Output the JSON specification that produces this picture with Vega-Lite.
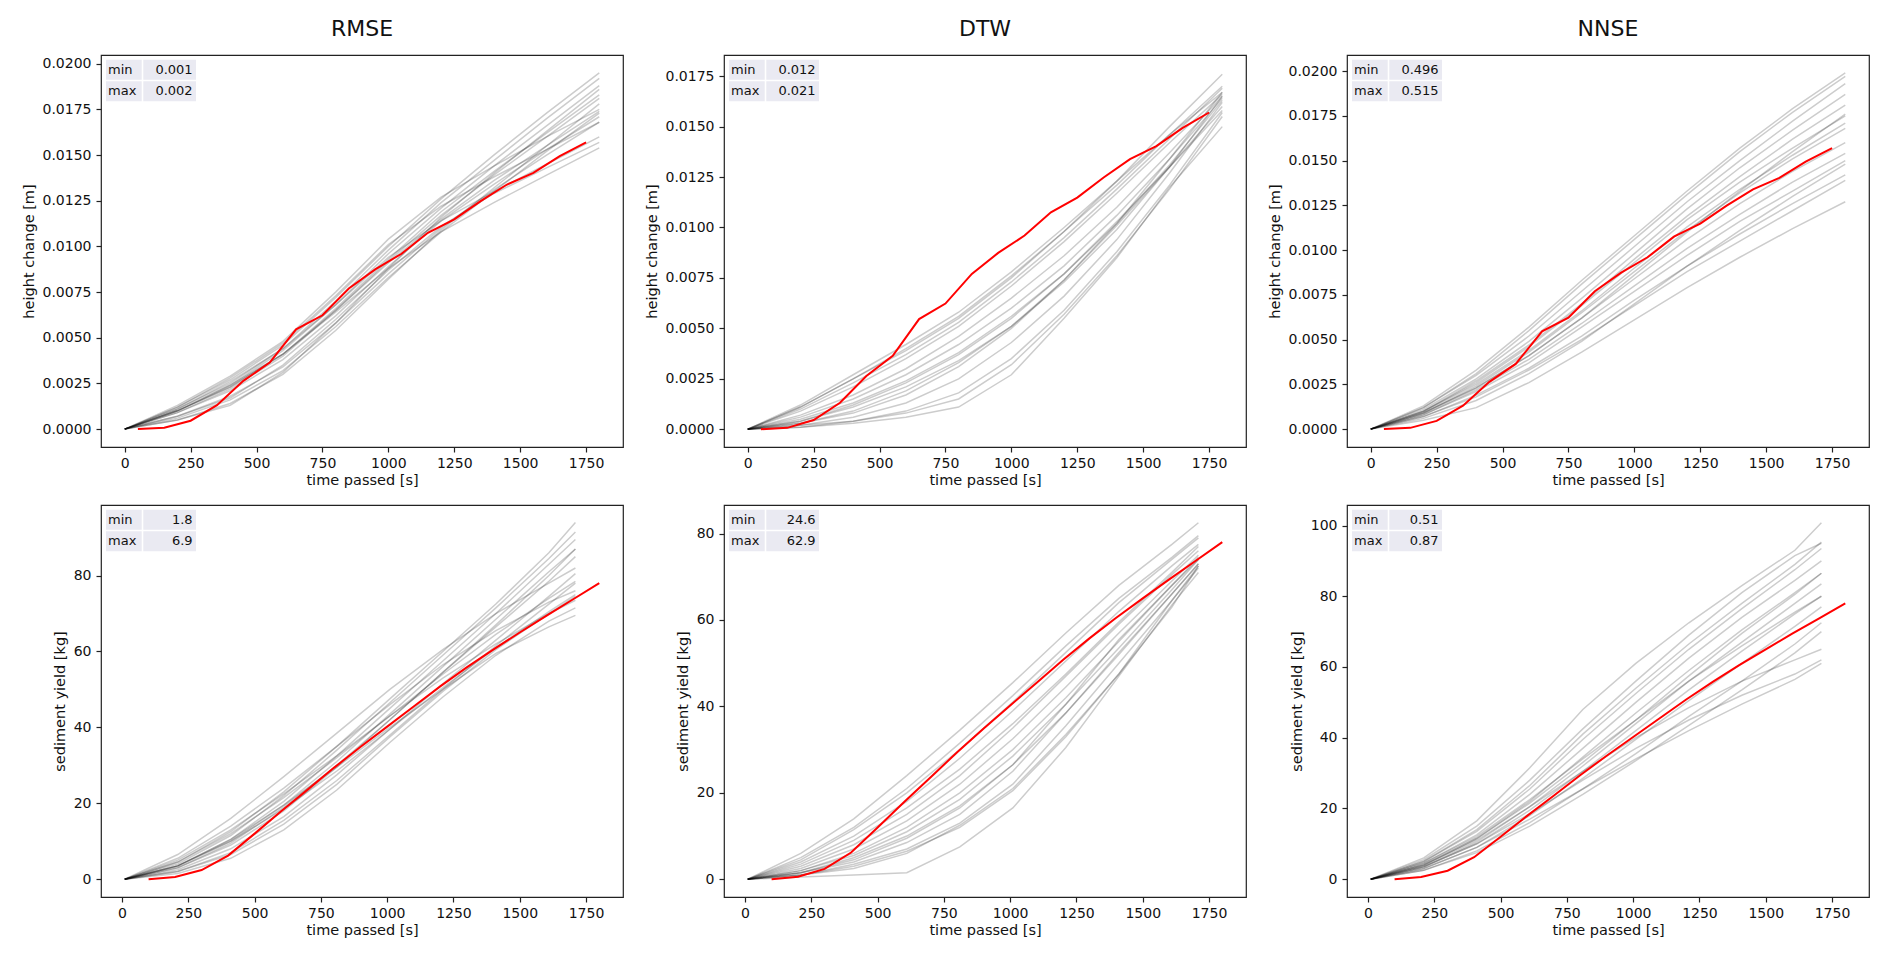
{
"$schema":"https://vega.github.io/schema/vega-lite/v6.json",
"background":"white",
"padding":{"left":20,"top":17,"right":5,"bottom":5},
"datasets":{
"a":[
{"s":1,"x":0,"y":0},{"s":1,"x":200,"y":0.0012},{"s":1,"x":400,"y":0.0027},{"s":1,"x":600,"y":0.0046},{"s":1,"x":800,"y":0.0072},{"s":1,"x":1000,"y":0.0100},{"s":1,"x":1200,"y":0.0126},{"s":1,"x":1400,"y":0.0150},{"s":1,"x":1600,"y":0.0173},{"s":1,"x":1800,"y":0.0195},
{"s":2,"x":0,"y":0},{"s":2,"x":200,"y":0.0011},{"s":2,"x":400,"y":0.0025},{"s":2,"x":600,"y":0.0044},{"s":2,"x":800,"y":0.0070},{"s":2,"x":1000,"y":0.0098},{"s":2,"x":1200,"y":0.0124},{"s":2,"x":1400,"y":0.0147},{"s":2,"x":1600,"y":0.0170},{"s":2,"x":1800,"y":0.0192},
{"s":3,"x":0,"y":0},{"s":3,"x":200,"y":0.0010},{"s":3,"x":400,"y":0.0024},{"s":3,"x":600,"y":0.0043},{"s":3,"x":800,"y":0.0068},{"s":3,"x":1000,"y":0.0096},{"s":3,"x":1200,"y":0.0121},{"s":3,"x":1400,"y":0.0144},{"s":3,"x":1600,"y":0.0166},{"s":3,"x":1800,"y":0.0188},
{"s":4,"x":0,"y":0},{"s":4,"x":200,"y":0.0010},{"s":4,"x":400,"y":0.0023},{"s":4,"x":600,"y":0.0041},{"s":4,"x":800,"y":0.0066},{"s":4,"x":1000,"y":0.0093},{"s":4,"x":1200,"y":0.0119},{"s":4,"x":1400,"y":0.0141},{"s":4,"x":1600,"y":0.0162},{"s":4,"x":1800,"y":0.0183},
{"s":5,"x":0,"y":0},{"s":5,"x":200,"y":0.0009},{"s":5,"x":400,"y":0.0022},{"s":5,"x":600,"y":0.0040},{"s":5,"x":800,"y":0.0065},{"s":5,"x":1000,"y":0.0092},{"s":5,"x":1200,"y":0.0117},{"s":5,"x":1400,"y":0.0139},{"s":5,"x":1600,"y":0.0160},{"s":5,"x":1800,"y":0.0181},
{"s":6,"x":0,"y":0},{"s":6,"x":200,"y":0.0010},{"s":6,"x":400,"y":0.0023},{"s":6,"x":600,"y":0.0041},{"s":6,"x":800,"y":0.0065},{"s":6,"x":1000,"y":0.0091},{"s":6,"x":1200,"y":0.0115},{"s":6,"x":1400,"y":0.0136},{"s":6,"x":1600,"y":0.0155},{"s":6,"x":1800,"y":0.0174},
{"s":7,"x":0,"y":0},{"s":7,"x":200,"y":0.0009},{"s":7,"x":400,"y":0.0021},{"s":7,"x":600,"y":0.0038},{"s":7,"x":800,"y":0.0062},{"s":7,"x":1000,"y":0.0089},{"s":7,"x":1200,"y":0.0114},{"s":7,"x":1400,"y":0.0134},{"s":7,"x":1600,"y":0.0153},{"s":7,"x":1800,"y":0.0171},
{"s":8,"x":0,"y":0},{"s":8,"x":200,"y":0.0013},{"s":8,"x":400,"y":0.0029},{"s":8,"x":600,"y":0.0048},{"s":8,"x":800,"y":0.0075},{"s":8,"x":1000,"y":0.0104},{"s":8,"x":1200,"y":0.0127},{"s":8,"x":1400,"y":0.0144},{"s":8,"x":1600,"y":0.0160},{"s":8,"x":1800,"y":0.0175},
{"s":9,"x":0,"y":0},{"s":9,"x":200,"y":0.0012},{"s":9,"x":400,"y":0.0028},{"s":9,"x":600,"y":0.0047},{"s":9,"x":800,"y":0.0073},{"s":9,"x":1000,"y":0.0101},{"s":9,"x":1200,"y":0.0122},{"s":9,"x":1400,"y":0.0138},{"s":9,"x":1600,"y":0.0153},{"s":9,"x":1800,"y":0.0168},
{"s":10,"x":0,"y":0},{"s":10,"x":200,"y":0.0011},{"s":10,"x":400,"y":0.0026},{"s":10,"x":600,"y":0.0044},{"s":10,"x":800,"y":0.0068},{"s":10,"x":1000,"y":0.0094},{"s":10,"x":1200,"y":0.0114},{"s":10,"x":1400,"y":0.0130},{"s":10,"x":1600,"y":0.0145},{"s":10,"x":1800,"y":0.0160},
{"s":11,"x":0,"y":0},{"s":11,"x":200,"y":0.0010},{"s":11,"x":400,"y":0.0024},{"s":11,"x":600,"y":0.0041},{"s":11,"x":800,"y":0.0064},{"s":11,"x":1000,"y":0.0088},{"s":11,"x":1200,"y":0.0108},{"s":11,"x":1400,"y":0.0124},{"s":11,"x":1600,"y":0.0139},{"s":11,"x":1800,"y":0.0154},
{"s":12,"x":0,"y":0},{"s":12,"x":200,"y":0.0007},{"s":12,"x":400,"y":0.0018},{"s":12,"x":600,"y":0.0034},{"s":12,"x":800,"y":0.0058},{"s":12,"x":1000,"y":0.0085},{"s":12,"x":1200,"y":0.0110},{"s":12,"x":1400,"y":0.0131},{"s":12,"x":1600,"y":0.0150},{"s":12,"x":1800,"y":0.0168},
{"s":13,"x":0,"y":0},{"s":13,"x":200,"y":0.0006},{"s":13,"x":400,"y":0.0016},{"s":13,"x":600,"y":0.0032},{"s":13,"x":800,"y":0.0056},{"s":13,"x":1000,"y":0.0083},{"s":13,"x":1200,"y":0.0108},{"s":13,"x":1400,"y":0.0130},{"s":13,"x":1600,"y":0.0152},{"s":13,"x":1800,"y":0.0173},
{"s":14,"x":0,"y":0},{"s":14,"x":200,"y":0.0005},{"s":14,"x":400,"y":0.0014},{"s":14,"x":600,"y":0.0030},{"s":14,"x":800,"y":0.0054},{"s":14,"x":1000,"y":0.0082},{"s":14,"x":1200,"y":0.0109},{"s":14,"x":1400,"y":0.0132},{"s":14,"x":1600,"y":0.0155},{"s":14,"x":1800,"y":0.0178},
{"s":15,"x":0,"y":0},{"s":15,"x":200,"y":0.0005},{"s":15,"x":400,"y":0.0013},{"s":15,"x":600,"y":0.0031},{"s":15,"x":800,"y":0.0058},{"s":15,"x":1000,"y":0.0088},{"s":15,"x":1200,"y":0.0116},{"s":15,"x":1400,"y":0.0140},{"s":15,"x":1600,"y":0.0163},{"s":15,"x":1800,"y":0.0186},
{"s":16,"x":0,"y":0},{"s":16,"x":200,"y":0.0007},{"s":16,"x":400,"y":0.0017},{"s":16,"x":600,"y":0.0035},{"s":16,"x":800,"y":0.0060},{"s":16,"x":1000,"y":0.0087},{"s":16,"x":1200,"y":0.0111},{"s":16,"x":1400,"y":0.0129},{"s":16,"x":1600,"y":0.0143},{"s":16,"x":1800,"y":0.0157}
],
"b":[
{"s":1,"x":0,"y":0},{"s":1,"x":200,"y":0.0011},{"s":1,"x":400,"y":0.0025},{"s":1,"x":600,"y":0.0040},{"s":1,"x":800,"y":0.0056},{"s":1,"x":1000,"y":0.0076},{"s":1,"x":1200,"y":0.0098},{"s":1,"x":1400,"y":0.0121},{"s":1,"x":1600,"y":0.0146},{"s":1,"x":1800,"y":0.0170},
{"s":2,"x":0,"y":0},{"s":2,"x":200,"y":0.0010},{"s":2,"x":400,"y":0.0023},{"s":2,"x":600,"y":0.0037},{"s":2,"x":800,"y":0.0053},{"s":2,"x":1000,"y":0.0073},{"s":2,"x":1200,"y":0.0095},{"s":2,"x":1400,"y":0.0119},{"s":2,"x":1600,"y":0.0144},{"s":2,"x":1800,"y":0.0169},
{"s":3,"x":0,"y":0},{"s":3,"x":200,"y":0.0012},{"s":3,"x":400,"y":0.0027},{"s":3,"x":600,"y":0.0042},{"s":3,"x":800,"y":0.0058},{"s":3,"x":1000,"y":0.0078},{"s":3,"x":1200,"y":0.0100},{"s":3,"x":1400,"y":0.0123},{"s":3,"x":1600,"y":0.0146},{"s":3,"x":1800,"y":0.0167},
{"s":4,"x":0,"y":0},{"s":4,"x":200,"y":0.0009},{"s":4,"x":400,"y":0.0021},{"s":4,"x":600,"y":0.0035},{"s":4,"x":800,"y":0.0051},{"s":4,"x":1000,"y":0.0071},{"s":4,"x":1200,"y":0.0093},{"s":4,"x":1400,"y":0.0117},{"s":4,"x":1600,"y":0.0142},{"s":4,"x":1800,"y":0.0166},
{"s":5,"x":0,"y":0},{"s":5,"x":200,"y":0.0011},{"s":5,"x":400,"y":0.0025},{"s":5,"x":600,"y":0.0039},{"s":5,"x":800,"y":0.0055},{"s":5,"x":1000,"y":0.0075},{"s":5,"x":1200,"y":0.0098},{"s":5,"x":1400,"y":0.0123},{"s":5,"x":1600,"y":0.0150},{"s":5,"x":1800,"y":0.0176},
{"s":6,"x":0,"y":0},{"s":6,"x":200,"y":0.0007},{"s":6,"x":400,"y":0.0017},{"s":6,"x":600,"y":0.0030},{"s":6,"x":800,"y":0.0046},{"s":6,"x":1000,"y":0.0065},{"s":6,"x":1200,"y":0.0086},{"s":6,"x":1400,"y":0.0110},{"s":6,"x":1600,"y":0.0137},{"s":6,"x":1800,"y":0.0165},
{"s":7,"x":0,"y":0},{"s":7,"x":200,"y":0.0006},{"s":7,"x":400,"y":0.0015},{"s":7,"x":600,"y":0.0027},{"s":7,"x":800,"y":0.0042},{"s":7,"x":1000,"y":0.0060},{"s":7,"x":1200,"y":0.0081},{"s":7,"x":1400,"y":0.0106},{"s":7,"x":1600,"y":0.0134},{"s":7,"x":1800,"y":0.0164},
{"s":8,"x":0,"y":0},{"s":8,"x":200,"y":0.0005},{"s":8,"x":400,"y":0.0013},{"s":8,"x":600,"y":0.0024},{"s":8,"x":800,"y":0.0038},{"s":8,"x":1000,"y":0.0056},{"s":8,"x":1200,"y":0.0077},{"s":8,"x":1400,"y":0.0102},{"s":8,"x":1600,"y":0.0131},{"s":8,"x":1800,"y":0.0163},
{"s":9,"x":0,"y":0},{"s":9,"x":200,"y":0.0004},{"s":9,"x":400,"y":0.0011},{"s":9,"x":600,"y":0.0021},{"s":9,"x":800,"y":0.0034},{"s":9,"x":1000,"y":0.0051},{"s":9,"x":1200,"y":0.0073},{"s":9,"x":1400,"y":0.0099},{"s":9,"x":1600,"y":0.0130},{"s":9,"x":1800,"y":0.0165},
{"s":10,"x":0,"y":0},{"s":10,"x":200,"y":0.0003},{"s":10,"x":400,"y":0.0009},{"s":10,"x":600,"y":0.0019},{"s":10,"x":800,"y":0.0033},{"s":10,"x":1000,"y":0.0051},{"s":10,"x":1200,"y":0.0074},{"s":10,"x":1400,"y":0.0101},{"s":10,"x":1600,"y":0.0130},{"s":10,"x":1800,"y":0.0160},
{"s":11,"x":0,"y":0},{"s":11,"x":200,"y":0.0004},{"s":11,"x":400,"y":0.0012},{"s":11,"x":600,"y":0.0023},{"s":11,"x":800,"y":0.0037},{"s":11,"x":1000,"y":0.0055},{"s":11,"x":1200,"y":0.0077},{"s":11,"x":1400,"y":0.0103},{"s":11,"x":1600,"y":0.0130},{"s":11,"x":1800,"y":0.0158},
{"s":12,"x":0,"y":0},{"s":12,"x":200,"y":0.0003},{"s":12,"x":400,"y":0.0008},{"s":12,"x":600,"y":0.0017},{"s":12,"x":800,"y":0.0031},{"s":12,"x":1000,"y":0.0050},{"s":12,"x":1200,"y":0.0074},{"s":12,"x":1400,"y":0.0102},{"s":12,"x":1600,"y":0.0134},{"s":12,"x":1800,"y":0.0167},
{"s":13,"x":0,"y":0},{"s":13,"x":200,"y":0.0002},{"s":13,"x":400,"y":0.0006},{"s":13,"x":600,"y":0.0013},{"s":13,"x":800,"y":0.0025},{"s":13,"x":1000,"y":0.0043},{"s":13,"x":1200,"y":0.0066},{"s":13,"x":1400,"y":0.0094},{"s":13,"x":1600,"y":0.0127},{"s":13,"x":1800,"y":0.0162},
{"s":14,"x":0,"y":0},{"s":14,"x":200,"y":0.0002},{"s":14,"x":400,"y":0.0004},{"s":14,"x":600,"y":0.0009},{"s":14,"x":800,"y":0.0018},{"s":14,"x":1000,"y":0.0035},{"s":14,"x":1200,"y":0.0059},{"s":14,"x":1400,"y":0.0088},{"s":14,"x":1600,"y":0.0121},{"s":14,"x":1800,"y":0.0157},
{"s":15,"x":0,"y":0},{"s":15,"x":200,"y":0.0001},{"s":15,"x":400,"y":0.0004},{"s":15,"x":600,"y":0.0008},{"s":15,"x":800,"y":0.0015},{"s":15,"x":1000,"y":0.0032},{"s":15,"x":1200,"y":0.0057},{"s":15,"x":1400,"y":0.0086},{"s":15,"x":1600,"y":0.0119},{"s":15,"x":1800,"y":0.0155},
{"s":16,"x":0,"y":0},{"s":16,"x":200,"y":0.0001},{"s":16,"x":400,"y":0.0003},{"s":16,"x":600,"y":0.0006},{"s":16,"x":800,"y":0.0011},{"s":16,"x":1000,"y":0.0027},{"s":16,"x":1200,"y":0.0055},{"s":16,"x":1400,"y":0.0085},{"s":16,"x":1600,"y":0.0120},{"s":16,"x":1800,"y":0.0150}
],
"c":[
{"s":1,"x":0,"y":0},{"s":1,"x":200,"y":0.0013},{"s":1,"x":400,"y":0.0033},{"s":1,"x":600,"y":0.0057},{"s":1,"x":800,"y":0.0083},{"s":1,"x":1000,"y":0.0108},{"s":1,"x":1200,"y":0.0133},{"s":1,"x":1400,"y":0.0157},{"s":1,"x":1600,"y":0.0179},{"s":1,"x":1800,"y":0.0199},
{"s":2,"x":0,"y":0},{"s":2,"x":200,"y":0.0012},{"s":2,"x":400,"y":0.0031},{"s":2,"x":600,"y":0.0055},{"s":2,"x":800,"y":0.0081},{"s":2,"x":1000,"y":0.0106},{"s":2,"x":1200,"y":0.0131},{"s":2,"x":1400,"y":0.0155},{"s":2,"x":1600,"y":0.0177},{"s":2,"x":1800,"y":0.0197},
{"s":3,"x":0,"y":0},{"s":3,"x":200,"y":0.0012},{"s":3,"x":400,"y":0.0030},{"s":3,"x":600,"y":0.0052},{"s":3,"x":800,"y":0.0077},{"s":3,"x":1000,"y":0.0102},{"s":3,"x":1200,"y":0.0127},{"s":3,"x":1400,"y":0.0150},{"s":3,"x":1600,"y":0.0172},{"s":3,"x":1800,"y":0.0193},
{"s":4,"x":0,"y":0},{"s":4,"x":200,"y":0.0011},{"s":4,"x":400,"y":0.0028},{"s":4,"x":600,"y":0.0049},{"s":4,"x":800,"y":0.0073},{"s":4,"x":1000,"y":0.0098},{"s":4,"x":1200,"y":0.0123},{"s":4,"x":1400,"y":0.0146},{"s":4,"x":1600,"y":0.0167},{"s":4,"x":1800,"y":0.0187},
{"s":5,"x":0,"y":0},{"s":5,"x":200,"y":0.0010},{"s":5,"x":400,"y":0.0027},{"s":5,"x":600,"y":0.0047},{"s":5,"x":800,"y":0.0070},{"s":5,"x":1000,"y":0.0095},{"s":5,"x":1200,"y":0.0119},{"s":5,"x":1400,"y":0.0141},{"s":5,"x":1600,"y":0.0162},{"s":5,"x":1800,"y":0.0181},
{"s":6,"x":0,"y":0},{"s":6,"x":200,"y":0.0010},{"s":6,"x":400,"y":0.0026},{"s":6,"x":600,"y":0.0046},{"s":6,"x":800,"y":0.0069},{"s":6,"x":1000,"y":0.0093},{"s":6,"x":1200,"y":0.0117},{"s":6,"x":1400,"y":0.0138},{"s":6,"x":1600,"y":0.0157},{"s":6,"x":1800,"y":0.0175},
{"s":7,"x":0,"y":0},{"s":7,"x":200,"y":0.0010},{"s":7,"x":400,"y":0.0025},{"s":7,"x":600,"y":0.0044},{"s":7,"x":800,"y":0.0066},{"s":7,"x":1000,"y":0.0090},{"s":7,"x":1200,"y":0.0113},{"s":7,"x":1400,"y":0.0134},{"s":7,"x":1600,"y":0.0153},{"s":7,"x":1800,"y":0.0171},
{"s":8,"x":0,"y":0},{"s":8,"x":200,"y":0.0009},{"s":8,"x":400,"y":0.0023},{"s":8,"x":600,"y":0.0041},{"s":8,"x":800,"y":0.0062},{"s":8,"x":1000,"y":0.0084},{"s":8,"x":1200,"y":0.0106},{"s":8,"x":1400,"y":0.0126},{"s":8,"x":1600,"y":0.0144},{"s":8,"x":1800,"y":0.0160},
{"s":9,"x":0,"y":0},{"s":9,"x":200,"y":0.0008},{"s":9,"x":400,"y":0.0022},{"s":9,"x":600,"y":0.0039},{"s":9,"x":800,"y":0.0059},{"s":9,"x":1000,"y":0.0080},{"s":9,"x":1200,"y":0.0101},{"s":9,"x":1400,"y":0.0120},{"s":9,"x":1600,"y":0.0138},{"s":9,"x":1800,"y":0.0154},
{"s":10,"x":0,"y":0},{"s":10,"x":200,"y":0.0008},{"s":10,"x":400,"y":0.0021},{"s":10,"x":600,"y":0.0037},{"s":10,"x":800,"y":0.0057},{"s":10,"x":1000,"y":0.0077},{"s":10,"x":1200,"y":0.0097},{"s":10,"x":1400,"y":0.0116},{"s":10,"x":1600,"y":0.0133},{"s":10,"x":1800,"y":0.0150},
{"s":11,"x":0,"y":0},{"s":11,"x":200,"y":0.0007},{"s":11,"x":400,"y":0.0019},{"s":11,"x":600,"y":0.0034},{"s":11,"x":800,"y":0.0052},{"s":11,"x":1000,"y":0.0072},{"s":11,"x":1200,"y":0.0091},{"s":11,"x":1400,"y":0.0109},{"s":11,"x":1600,"y":0.0126},{"s":11,"x":1800,"y":0.0142},
{"s":12,"x":0,"y":0},{"s":12,"x":200,"y":0.0007},{"s":12,"x":400,"y":0.0018},{"s":12,"x":600,"y":0.0033},{"s":12,"x":800,"y":0.0050},{"s":12,"x":1000,"y":0.0069},{"s":12,"x":1200,"y":0.0088},{"s":12,"x":1400,"y":0.0105},{"s":12,"x":1600,"y":0.0122},{"s":12,"x":1800,"y":0.0139},
{"s":13,"x":0,"y":0},{"s":13,"x":200,"y":0.0005},{"s":13,"x":400,"y":0.0012},{"s":13,"x":600,"y":0.0026},{"s":13,"x":800,"y":0.0043},{"s":13,"x":1000,"y":0.0061},{"s":13,"x":1200,"y":0.0079},{"s":13,"x":1400,"y":0.0096},{"s":13,"x":1600,"y":0.0112},{"s":13,"x":1800,"y":0.0127},
{"s":14,"x":0,"y":0},{"s":14,"x":200,"y":0.0009},{"s":14,"x":400,"y":0.0024},{"s":14,"x":600,"y":0.0043},{"s":14,"x":800,"y":0.0065},{"s":14,"x":1000,"y":0.0088},{"s":14,"x":1200,"y":0.0111},{"s":14,"x":1400,"y":0.0132},{"s":14,"x":1600,"y":0.0151},{"s":14,"x":1800,"y":0.0168},
{"s":15,"x":0,"y":0},{"s":15,"x":200,"y":0.0006},{"s":15,"x":400,"y":0.0016},{"s":15,"x":600,"y":0.0031},{"s":15,"x":800,"y":0.0049},{"s":15,"x":1000,"y":0.0070},{"s":15,"x":1200,"y":0.0091},{"s":15,"x":1400,"y":0.0111},{"s":15,"x":1600,"y":0.0130},{"s":15,"x":1800,"y":0.0148},
{"s":16,"x":0,"y":0},{"s":16,"x":200,"y":0.0009},{"s":16,"x":400,"y":0.0023},{"s":16,"x":600,"y":0.0041},{"s":16,"x":800,"y":0.0062},{"s":16,"x":1000,"y":0.0086},{"s":16,"x":1200,"y":0.0110},{"s":16,"x":1400,"y":0.0133},{"s":16,"x":1600,"y":0.0155},{"s":16,"x":1800,"y":0.0176}
],
"d":[
{"s":1,"x":10,"y":0},{"s":1,"x":210,"y":6.5},{"s":1,"x":410,"y":16},{"s":1,"x":610,"y":27},{"s":1,"x":810,"y":38.5},{"s":1,"x":1010,"y":50},{"s":1,"x":1210,"y":60.5},{"s":1,"x":1410,"y":70},{"s":1,"x":1610,"y":78},{"s":1,"x":1710,"y":82},
{"s":2,"x":10,"y":0},{"s":2,"x":210,"y":4.5},{"s":2,"x":410,"y":12.5},{"s":2,"x":610,"y":23},{"s":2,"x":810,"y":35},{"s":2,"x":1010,"y":47.5},{"s":2,"x":1210,"y":60},{"s":2,"x":1410,"y":72.5},{"s":2,"x":1610,"y":86},{"s":2,"x":1710,"y":94},
{"s":3,"x":10,"y":0},{"s":3,"x":210,"y":4},{"s":3,"x":410,"y":11.5},{"s":3,"x":610,"y":22},{"s":3,"x":810,"y":34},{"s":3,"x":1010,"y":46.5},{"s":3,"x":1210,"y":59},{"s":3,"x":1410,"y":71.5},{"s":3,"x":1610,"y":84.5},{"s":3,"x":1710,"y":91.5},
{"s":4,"x":10,"y":0},{"s":4,"x":210,"y":3.5},{"s":4,"x":410,"y":10.5},{"s":4,"x":610,"y":20.5},{"s":4,"x":810,"y":32.5},{"s":4,"x":1010,"y":45},{"s":4,"x":1210,"y":57.5},{"s":4,"x":1410,"y":70},{"s":4,"x":1610,"y":83},{"s":4,"x":1710,"y":89.5},
{"s":5,"x":10,"y":0},{"s":5,"x":210,"y":3.5},{"s":5,"x":410,"y":10},{"s":5,"x":610,"y":19.5},{"s":5,"x":810,"y":31},{"s":5,"x":1010,"y":43.5},{"s":5,"x":1210,"y":56},{"s":5,"x":1410,"y":68.5},{"s":5,"x":1610,"y":81},{"s":5,"x":1710,"y":87},
{"s":6,"x":10,"y":0},{"s":6,"x":210,"y":3},{"s":6,"x":410,"y":9},{"s":6,"x":610,"y":18},{"s":6,"x":810,"y":29.5},{"s":6,"x":1010,"y":42},{"s":6,"x":1210,"y":54.5},{"s":6,"x":1410,"y":66.5},{"s":6,"x":1610,"y":78.5},{"s":6,"x":1710,"y":85},
{"s":7,"x":10,"y":0},{"s":7,"x":210,"y":2.5},{"s":7,"x":410,"y":8},{"s":7,"x":610,"y":16.5},{"s":7,"x":810,"y":27.5},{"s":7,"x":1010,"y":39.5},{"s":7,"x":1210,"y":51.5},{"s":7,"x":1410,"y":63},{"s":7,"x":1610,"y":74.5},{"s":7,"x":1710,"y":80.5},
{"s":8,"x":10,"y":0},{"s":8,"x":210,"y":2},{"s":8,"x":410,"y":7},{"s":8,"x":610,"y":15.5},{"s":8,"x":810,"y":26},{"s":8,"x":1010,"y":38},{"s":8,"x":1210,"y":50},{"s":8,"x":1410,"y":61.5},{"s":8,"x":1610,"y":72.5},{"s":8,"x":1710,"y":78},
{"s":9,"x":10,"y":0},{"s":9,"x":210,"y":5.5},{"s":9,"x":410,"y":14},{"s":9,"x":610,"y":24},{"s":9,"x":810,"y":35},{"s":9,"x":1010,"y":46},{"s":9,"x":1210,"y":56.5},{"s":9,"x":1410,"y":65.5},{"s":9,"x":1610,"y":73},{"s":9,"x":1710,"y":76},
{"s":10,"x":10,"y":0},{"s":10,"x":210,"y":5},{"s":10,"x":410,"y":13},{"s":10,"x":610,"y":22.5},{"s":10,"x":810,"y":32.5},{"s":10,"x":1010,"y":43},{"s":10,"x":1210,"y":53},{"s":10,"x":1410,"y":62},{"s":10,"x":1610,"y":70},{"s":10,"x":1710,"y":73.5},
{"s":11,"x":10,"y":0},{"s":11,"x":210,"y":2},{"s":11,"x":410,"y":6.5},{"s":11,"x":610,"y":14.5},{"s":11,"x":810,"y":25},{"s":11,"x":1010,"y":37.5},{"s":11,"x":1210,"y":49.5},{"s":11,"x":1410,"y":60.5},{"s":11,"x":1610,"y":70},{"s":11,"x":1710,"y":74.5},
{"s":12,"x":10,"y":0},{"s":12,"x":210,"y":1.5},{"s":12,"x":410,"y":5.5},{"s":12,"x":610,"y":13},{"s":12,"x":810,"y":23.5},{"s":12,"x":1010,"y":36},{"s":12,"x":1210,"y":48},{"s":12,"x":1410,"y":59},{"s":12,"x":1610,"y":68},{"s":12,"x":1710,"y":71.5},
{"s":13,"x":10,"y":0},{"s":13,"x":210,"y":3.5},{"s":13,"x":410,"y":10.5},{"s":13,"x":610,"y":19.5},{"s":13,"x":810,"y":29.5},{"s":13,"x":1010,"y":40},{"s":13,"x":1210,"y":50},{"s":13,"x":1410,"y":59.5},{"s":13,"x":1610,"y":66.5},{"s":13,"x":1710,"y":69.5},
{"s":14,"x":10,"y":0},{"s":14,"x":210,"y":3},{"s":14,"x":410,"y":9.5},{"s":14,"x":610,"y":19},{"s":14,"x":810,"y":30},{"s":14,"x":1010,"y":42},{"s":14,"x":1210,"y":54.5},{"s":14,"x":1410,"y":67},{"s":14,"x":1610,"y":80},{"s":14,"x":1710,"y":87},
{"s":15,"x":10,"y":0},{"s":15,"x":210,"y":4.5},{"s":15,"x":410,"y":12},{"s":15,"x":610,"y":21.5},{"s":15,"x":810,"y":32},{"s":15,"x":1010,"y":43},{"s":15,"x":1210,"y":54},{"s":15,"x":1410,"y":64.5},{"s":15,"x":1610,"y":74},{"s":15,"x":1710,"y":78.5},
{"s":16,"x":10,"y":0},{"s":16,"x":210,"y":3.5},{"s":16,"x":410,"y":10},{"s":16,"x":610,"y":18.5},{"s":16,"x":810,"y":28.5},{"s":16,"x":1010,"y":39.5},{"s":16,"x":1210,"y":50.5},{"s":16,"x":1410,"y":61},{"s":16,"x":1610,"y":70.5},{"s":16,"x":1710,"y":75}
],
"e":[
{"s":1,"x":10,"y":0},{"s":1,"x":210,"y":6},{"s":1,"x":410,"y":14},{"s":1,"x":610,"y":24},{"s":1,"x":810,"y":34.5},{"s":1,"x":1010,"y":45.5},{"s":1,"x":1210,"y":57},{"s":1,"x":1410,"y":68},{"s":1,"x":1610,"y":77.5},{"s":1,"x":1710,"y":82.5},
{"s":2,"x":10,"y":0},{"s":2,"x":210,"y":5},{"s":2,"x":410,"y":12},{"s":2,"x":610,"y":21},{"s":2,"x":810,"y":31.5},{"s":2,"x":1010,"y":42.5},{"s":2,"x":1210,"y":54},{"s":2,"x":1410,"y":65},{"s":2,"x":1610,"y":74.5},{"s":2,"x":1710,"y":79.5},
{"s":3,"x":10,"y":0},{"s":3,"x":210,"y":4},{"s":3,"x":410,"y":10},{"s":3,"x":610,"y":18},{"s":3,"x":810,"y":28},{"s":3,"x":1010,"y":39},{"s":3,"x":1210,"y":50.5},{"s":3,"x":1410,"y":62},{"s":3,"x":1610,"y":72.5},{"s":3,"x":1710,"y":77.5},
{"s":4,"x":10,"y":0},{"s":4,"x":210,"y":4.5},{"s":4,"x":410,"y":11.5},{"s":4,"x":610,"y":20},{"s":4,"x":810,"y":30},{"s":4,"x":1010,"y":41},{"s":4,"x":1210,"y":52.5},{"s":4,"x":1410,"y":64},{"s":4,"x":1610,"y":74},{"s":4,"x":1710,"y":79},
{"s":5,"x":10,"y":0},{"s":5,"x":210,"y":3},{"s":5,"x":410,"y":8},{"s":5,"x":610,"y":15},{"s":5,"x":810,"y":24},{"s":5,"x":1010,"y":35},{"s":5,"x":1210,"y":47},{"s":5,"x":1410,"y":59},{"s":5,"x":1610,"y":70.5},{"s":5,"x":1710,"y":76},
{"s":6,"x":10,"y":0},{"s":6,"x":210,"y":2.5},{"s":6,"x":410,"y":7},{"s":6,"x":610,"y":13.5},{"s":6,"x":810,"y":22},{"s":6,"x":1010,"y":32.5},{"s":6,"x":1210,"y":44.5},{"s":6,"x":1410,"y":57},{"s":6,"x":1610,"y":69},{"s":6,"x":1710,"y":75},
{"s":7,"x":10,"y":0},{"s":7,"x":210,"y":2},{"s":7,"x":410,"y":6},{"s":7,"x":610,"y":12},{"s":7,"x":810,"y":20},{"s":7,"x":1010,"y":30},{"s":7,"x":1210,"y":42},{"s":7,"x":1410,"y":55},{"s":7,"x":1610,"y":68},{"s":7,"x":1710,"y":74.5},
{"s":8,"x":10,"y":0},{"s":8,"x":210,"y":2},{"s":8,"x":410,"y":5.5},{"s":8,"x":610,"y":11},{"s":8,"x":810,"y":18.5},{"s":8,"x":1010,"y":28.5},{"s":8,"x":1210,"y":40.5},{"s":8,"x":1410,"y":53.5},{"s":8,"x":1610,"y":67},{"s":8,"x":1710,"y":74},
{"s":9,"x":10,"y":0},{"s":9,"x":210,"y":1.5},{"s":9,"x":410,"y":5},{"s":9,"x":610,"y":10},{"s":9,"x":810,"y":17},{"s":9,"x":1010,"y":26.5},{"s":9,"x":1210,"y":38.5},{"s":9,"x":1410,"y":52},{"s":9,"x":1610,"y":66},{"s":9,"x":1710,"y":73},
{"s":10,"x":10,"y":0},{"s":10,"x":210,"y":3.5},{"s":10,"x":410,"y":9},{"s":10,"x":610,"y":16.5},{"s":10,"x":810,"y":25.5},{"s":10,"x":1010,"y":36},{"s":10,"x":1210,"y":47.5},{"s":10,"x":1410,"y":59.5},{"s":10,"x":1610,"y":71},{"s":10,"x":1710,"y":77},
{"s":11,"x":10,"y":0},{"s":11,"x":210,"y":1.5},{"s":11,"x":410,"y":4},{"s":11,"x":610,"y":8.5},{"s":11,"x":810,"y":15},{"s":11,"x":1010,"y":25},{"s":11,"x":1210,"y":38.5},{"s":11,"x":1410,"y":52.5},{"s":11,"x":1610,"y":66},{"s":11,"x":1710,"y":73},
{"s":12,"x":10,"y":0},{"s":12,"x":210,"y":1},{"s":12,"x":410,"y":3.5},{"s":12,"x":610,"y":7},{"s":12,"x":810,"y":13},{"s":12,"x":1010,"y":22},{"s":12,"x":1210,"y":35.5},{"s":12,"x":1410,"y":50},{"s":12,"x":1610,"y":64.5},{"s":12,"x":1710,"y":72},
{"s":13,"x":10,"y":0},{"s":13,"x":210,"y":1},{"s":13,"x":410,"y":3},{"s":13,"x":610,"y":6.5},{"s":13,"x":810,"y":12},{"s":13,"x":1010,"y":20.5},{"s":13,"x":1210,"y":33},{"s":13,"x":1410,"y":47.5},{"s":13,"x":1610,"y":63},{"s":13,"x":1710,"y":72.5},
{"s":14,"x":10,"y":0},{"s":14,"x":210,"y":1},{"s":14,"x":410,"y":2.5},{"s":14,"x":610,"y":6},{"s":14,"x":810,"y":12.5},{"s":14,"x":1010,"y":21},{"s":14,"x":1210,"y":33.5},{"s":14,"x":1410,"y":47.5},{"s":14,"x":1610,"y":64.5},{"s":14,"x":1710,"y":72.5},
{"s":15,"x":10,"y":0},{"s":15,"x":210,"y":0.5},{"s":15,"x":410,"y":1},{"s":15,"x":610,"y":1.5},{"s":15,"x":810,"y":7.5},{"s":15,"x":1010,"y":16.5},{"s":15,"x":1210,"y":30.5},{"s":15,"x":1410,"y":47},{"s":15,"x":1610,"y":63.5},{"s":15,"x":1710,"y":71},
{"s":16,"x":10,"y":0},{"s":16,"x":210,"y":1.5},{"s":16,"x":410,"y":4.5},{"s":16,"x":610,"y":9.5},{"s":16,"x":810,"y":16.5},{"s":16,"x":1010,"y":26.5},{"s":16,"x":1210,"y":40.5},{"s":16,"x":1410,"y":55.5},{"s":16,"x":1610,"y":68},{"s":16,"x":1710,"y":74}
],
"f":[
{"s":1,"x":10,"y":0},{"s":1,"x":210,"y":6},{"s":1,"x":410,"y":16.5},{"s":1,"x":610,"y":31.5},{"s":1,"x":810,"y":48},{"s":1,"x":1010,"y":61},{"s":1,"x":1210,"y":72.5},{"s":1,"x":1410,"y":83},{"s":1,"x":1610,"y":93},{"s":1,"x":1710,"y":100.8},
{"s":2,"x":10,"y":0},{"s":2,"x":210,"y":5},{"s":2,"x":410,"y":14},{"s":2,"x":610,"y":26.5},{"s":2,"x":810,"y":41},{"s":2,"x":1010,"y":54},{"s":2,"x":1210,"y":66.5},{"s":2,"x":1410,"y":78},{"s":2,"x":1610,"y":89},{"s":2,"x":1710,"y":95.3},
{"s":3,"x":10,"y":0},{"s":3,"x":210,"y":5},{"s":3,"x":410,"y":13.5},{"s":3,"x":610,"y":25.5},{"s":3,"x":810,"y":39.5},{"s":3,"x":1010,"y":52.5},{"s":3,"x":1210,"y":65},{"s":3,"x":1410,"y":76.5},{"s":3,"x":1610,"y":87.5},{"s":3,"x":1710,"y":93.5},
{"s":4,"x":10,"y":0},{"s":4,"x":210,"y":4.5},{"s":4,"x":410,"y":12.5},{"s":4,"x":610,"y":24},{"s":4,"x":810,"y":37},{"s":4,"x":1010,"y":50},{"s":4,"x":1210,"y":62.5},{"s":4,"x":1410,"y":74},{"s":4,"x":1610,"y":84.5},{"s":4,"x":1710,"y":90},
{"s":5,"x":10,"y":0},{"s":5,"x":210,"y":4},{"s":5,"x":410,"y":11.5},{"s":5,"x":610,"y":22},{"s":5,"x":810,"y":34.5},{"s":5,"x":1010,"y":47},{"s":5,"x":1210,"y":59},{"s":5,"x":1410,"y":70.5},{"s":5,"x":1610,"y":81},{"s":5,"x":1710,"y":86.5},
{"s":6,"x":10,"y":0},{"s":6,"x":210,"y":3.5},{"s":6,"x":410,"y":10.5},{"s":6,"x":610,"y":20.5},{"s":6,"x":810,"y":32},{"s":6,"x":1010,"y":44},{"s":6,"x":1210,"y":56},{"s":6,"x":1410,"y":67},{"s":6,"x":1610,"y":78},{"s":6,"x":1710,"y":83.5},
{"s":7,"x":10,"y":0},{"s":7,"x":210,"y":3.5},{"s":7,"x":410,"y":10},{"s":7,"x":610,"y":19.5},{"s":7,"x":810,"y":30.5},{"s":7,"x":1010,"y":42},{"s":7,"x":1210,"y":53.5},{"s":7,"x":1410,"y":64.5},{"s":7,"x":1610,"y":75},{"s":7,"x":1710,"y":80},
{"s":8,"x":10,"y":0},{"s":8,"x":210,"y":3},{"s":8,"x":410,"y":9},{"s":8,"x":610,"y":18},{"s":8,"x":810,"y":28.5},{"s":8,"x":1010,"y":39.5},{"s":8,"x":1210,"y":50.5},{"s":8,"x":1410,"y":61},{"s":8,"x":1610,"y":71.5},{"s":8,"x":1710,"y":77},
{"s":9,"x":10,"y":0},{"s":9,"x":210,"y":2.5},{"s":9,"x":410,"y":8},{"s":9,"x":610,"y":16},{"s":9,"x":810,"y":25.5},{"s":9,"x":1010,"y":35.5},{"s":9,"x":1210,"y":46},{"s":9,"x":1410,"y":56},{"s":9,"x":1610,"y":66.5},{"s":9,"x":1710,"y":72.5},
{"s":10,"x":10,"y":0},{"s":10,"x":210,"y":2.5},{"s":10,"x":410,"y":7.5},{"s":10,"x":610,"y":15},{"s":10,"x":810,"y":24},{"s":10,"x":1010,"y":33.5},{"s":10,"x":1210,"y":43.5},{"s":10,"x":1410,"y":53.5},{"s":10,"x":1610,"y":64},{"s":10,"x":1710,"y":70},
{"s":11,"x":10,"y":0},{"s":11,"x":210,"y":4},{"s":11,"x":410,"y":11},{"s":11,"x":610,"y":20.5},{"s":11,"x":810,"y":30.5},{"s":11,"x":1010,"y":40},{"s":11,"x":1210,"y":48.5},{"s":11,"x":1410,"y":56},{"s":11,"x":1610,"y":62},{"s":11,"x":1710,"y":65},
{"s":12,"x":10,"y":0},{"s":12,"x":210,"y":3.5},{"s":12,"x":410,"y":10},{"s":12,"x":610,"y":18.5},{"s":12,"x":810,"y":28},{"s":12,"x":1010,"y":37},{"s":12,"x":1210,"y":45},{"s":12,"x":1410,"y":52},{"s":12,"x":1610,"y":58},{"s":12,"x":1710,"y":62},
{"s":13,"x":10,"y":0},{"s":13,"x":210,"y":3},{"s":13,"x":410,"y":9},{"s":13,"x":610,"y":17},{"s":13,"x":810,"y":25.5},{"s":13,"x":1010,"y":34},{"s":13,"x":1210,"y":42},{"s":13,"x":1410,"y":49.5},{"s":13,"x":1610,"y":56.5},{"s":13,"x":1710,"y":61},
{"s":14,"x":10,"y":0},{"s":14,"x":210,"y":4.5},{"s":14,"x":410,"y":12},{"s":14,"x":610,"y":22.5},{"s":14,"x":810,"y":34},{"s":14,"x":1010,"y":45},{"s":14,"x":1210,"y":56},{"s":14,"x":1410,"y":66},{"s":14,"x":1610,"y":75.5},{"s":14,"x":1710,"y":80},
{"s":15,"x":10,"y":0},{"s":15,"x":210,"y":4},{"s":15,"x":410,"y":11.5},{"s":15,"x":610,"y":21.5},{"s":15,"x":810,"y":33},{"s":15,"x":1010,"y":45},{"s":15,"x":1210,"y":57.5},{"s":15,"x":1410,"y":69.5},{"s":15,"x":1610,"y":80.5},{"s":15,"x":1710,"y":86.5},
{"s":16,"x":10,"y":0},{"s":16,"x":210,"y":5.5},{"s":16,"x":410,"y":15},{"s":16,"x":610,"y":28},{"s":16,"x":810,"y":42.5},{"s":16,"x":1010,"y":56},{"s":16,"x":1210,"y":69},{"s":16,"x":1410,"y":81},{"s":16,"x":1610,"y":91.5},{"s":16,"x":1710,"y":95}
],
"rt":[
{"x":50,"y":0},{"x":150,"y":0.00007},{"x":250,"y":0.00046},{"x":350,"y":0.00131},{"x":450,"y":0.00264},{"x":550,"y":0.00364},{"x":650,"y":0.00546},{"x":750,"y":0.00623},{"x":850,"y":0.0077},{"x":950,"y":0.00874},{"x":1050,"y":0.0096},{"x":1150,"y":0.01075},{"x":1250,"y":0.01148},{"x":1350,"y":0.01248},{"x":1450,"y":0.01339},{"x":1550,"y":0.01403},{"x":1650,"y":0.01494},{"x":1750,"y":0.0157}
],
"rb":[
{"x":100,"y":0},{"x":200,"y":0.6},{"x":300,"y":2.4},{"x":400,"y":6.2},{"x":500,"y":12.0},{"x":600,"y":17.9},{"x":700,"y":23.6},{"x":800,"y":29.4},{"x":900,"y":34.9},{"x":1000,"y":40.2},{"x":1100,"y":45.5},{"x":1200,"y":50.8},{"x":1300,"y":55.8},{"x":1400,"y":60.5},{"x":1500,"y":65.0},{"x":1600,"y":69.4},{"x":1700,"y":73.7},{"x":1800,"y":78.0}
],
"t":[
{"p":"a","mn":"0.001","mx":"0.002"},
{"p":"b","mn":"0.012","mx":"0.021"},
{"p":"c","mn":"0.496","mx":"0.515"},
{"p":"d","mn":"1.8","mx":"6.9"},
{"p":"e","mn":"24.6","mx":"62.9"},
{"p":"f","mn":"0.51","mx":"0.87"}
]
},
"columns":3,
"spacing":{"row":16,"column":19},
"concat":[
{"width":522,"height":392,"title":"RMSE","resolve":{"scale":{"x":"independent","y":"independent"}},
"layer":[
{"layer":[
{"data":{"name":"a"},"mark":{"type":"line","stroke":"#000","strokeOpacity":0.2,"strokeWidth":1.5},
"encoding":{"x":{"field":"x","type":"quantitative","scale":{"domain":[-90,1890],"nice":false,"zero":false},"axis":{"values":[0,250,500,750,1000,1250,1500,1750],"format":"d","title":"time passed [s]"}},
"y":{"field":"y","type":"quantitative","scale":{"domain":[-0.00098,0.02048],"nice":false,"zero":false},"axis":{"values":[0,0.0025,0.005,0.0075,0.01,0.0125,0.015,0.0175,0.02],"format":".4f","title":"height change [m]"}},
"detail":{"field":"s","type":"nominal"}}},
{"data":{"name":"rt"},"mark":{"type":"line","stroke":"#ff0000","strokeWidth":2},"encoding":{"x":{"field":"x","type":"quantitative"},"y":{"field":"y","type":"quantitative"}}}
]},
{"data":{"name":"t"},"transform":[{"filter":{"field":"p","equal":"a"}}],"layer":[
{"mark":{"type":"rect","fill":"#eaeaf2"},"encoding":{"x":{"datum":0.0096,"scale":{"domain":[0,1],"nice":false},"axis":null},"x2":{"datum":0.078},"y":{"datum":0.988,"scale":{"domain":[0,1],"nice":false},"axis":null},"y2":{"datum":0.937}}},
{"mark":{"type":"rect","fill":"#eaeaf2"},"encoding":{"x":{"datum":0.081,"axis":null},"x2":{"datum":0.182},"y":{"datum":0.988,"axis":null},"y2":{"datum":0.937}}},
{"mark":{"type":"rect","fill":"#eaeaf2"},"encoding":{"x":{"datum":0.0096,"axis":null},"x2":{"datum":0.078},"y":{"datum":0.933,"axis":null},"y2":{"datum":0.882}}},
{"mark":{"type":"rect","fill":"#eaeaf2"},"encoding":{"x":{"datum":0.081,"axis":null},"x2":{"datum":0.182},"y":{"datum":0.933,"axis":null},"y2":{"datum":0.882}}},
{"mark":{"type":"text","text":"min","align":"left","baseline":"middle","fontSize":13,"color":"#111"},"encoding":{"x":{"datum":0.0135,"axis":null},"y":{"datum":0.9625,"axis":null}}},
{"mark":{"type":"text","text":"max","align":"left","baseline":"middle","fontSize":13,"color":"#111"},"encoding":{"x":{"datum":0.0135,"axis":null},"y":{"datum":0.9074,"axis":null}}},
{"mark":{"type":"text","align":"right","baseline":"middle","fontSize":13,"color":"#111"},"encoding":{"text":{"field":"mn"},"x":{"datum":0.1755,"axis":null},"y":{"datum":0.9625,"axis":null}}},
{"mark":{"type":"text","align":"right","baseline":"middle","fontSize":13,"color":"#111"},"encoding":{"text":{"field":"mx"},"x":{"datum":0.1755,"axis":null},"y":{"datum":0.9074,"axis":null}}}
]}
]},
{"width":522,"height":392,"title":"DTW","resolve":{"scale":{"x":"independent","y":"independent"}},
"layer":[
{"layer":[
{"data":{"name":"b"},"mark":{"type":"line","stroke":"#000","strokeOpacity":0.2,"strokeWidth":1.5},
"encoding":{"x":{"field":"x","type":"quantitative","scale":{"domain":[-90,1890],"nice":false,"zero":false},"axis":{"values":[0,250,500,750,1000,1250,1500,1750],"format":"d","title":"time passed [s]"}},
"y":{"field":"y","type":"quantitative","scale":{"domain":[-0.00088,0.01855],"nice":false,"zero":false},"axis":{"values":[0,0.0025,0.005,0.0075,0.01,0.0125,0.015,0.0175],"format":".4f","title":"height change [m]"}},
"detail":{"field":"s","type":"nominal"}}},
{"data":{"name":"rt"},"mark":{"type":"line","stroke":"#ff0000","strokeWidth":2},"encoding":{"x":{"field":"x","type":"quantitative"},"y":{"field":"y","type":"quantitative"}}}
]},
{"data":{"name":"t"},"transform":[{"filter":{"field":"p","equal":"b"}}],"layer":[
{"mark":{"type":"rect","fill":"#eaeaf2"},"encoding":{"x":{"datum":0.0096,"scale":{"domain":[0,1],"nice":false},"axis":null},"x2":{"datum":0.078},"y":{"datum":0.988,"scale":{"domain":[0,1],"nice":false},"axis":null},"y2":{"datum":0.937}}},
{"mark":{"type":"rect","fill":"#eaeaf2"},"encoding":{"x":{"datum":0.081,"axis":null},"x2":{"datum":0.182},"y":{"datum":0.988,"axis":null},"y2":{"datum":0.937}}},
{"mark":{"type":"rect","fill":"#eaeaf2"},"encoding":{"x":{"datum":0.0096,"axis":null},"x2":{"datum":0.078},"y":{"datum":0.933,"axis":null},"y2":{"datum":0.882}}},
{"mark":{"type":"rect","fill":"#eaeaf2"},"encoding":{"x":{"datum":0.081,"axis":null},"x2":{"datum":0.182},"y":{"datum":0.933,"axis":null},"y2":{"datum":0.882}}},
{"mark":{"type":"text","text":"min","align":"left","baseline":"middle","fontSize":13,"color":"#111"},"encoding":{"x":{"datum":0.0135,"axis":null},"y":{"datum":0.9625,"axis":null}}},
{"mark":{"type":"text","text":"max","align":"left","baseline":"middle","fontSize":13,"color":"#111"},"encoding":{"x":{"datum":0.0135,"axis":null},"y":{"datum":0.9074,"axis":null}}},
{"mark":{"type":"text","align":"right","baseline":"middle","fontSize":13,"color":"#111"},"encoding":{"text":{"field":"mn"},"x":{"datum":0.1755,"axis":null},"y":{"datum":0.9625,"axis":null}}},
{"mark":{"type":"text","align":"right","baseline":"middle","fontSize":13,"color":"#111"},"encoding":{"text":{"field":"mx"},"x":{"datum":0.1755,"axis":null},"y":{"datum":0.9074,"axis":null}}}
]}
]},
{"width":522,"height":392,"title":"NNSE","resolve":{"scale":{"x":"independent","y":"independent"}},
"layer":[
{"layer":[
{"data":{"name":"c"},"mark":{"type":"line","stroke":"#000","strokeOpacity":0.2,"strokeWidth":1.5},
"encoding":{"x":{"field":"x","type":"quantitative","scale":{"domain":[-90,1890],"nice":false,"zero":false},"axis":{"values":[0,250,500,750,1000,1250,1500,1750],"format":"d","title":"time passed [s]"}},
"y":{"field":"y","type":"quantitative","scale":{"domain":[-0.001,0.0209],"nice":false,"zero":false},"axis":{"values":[0,0.0025,0.005,0.0075,0.01,0.0125,0.015,0.0175,0.02],"format":".4f","title":"height change [m]"}},
"detail":{"field":"s","type":"nominal"}}},
{"data":{"name":"rt"},"mark":{"type":"line","stroke":"#ff0000","strokeWidth":2},"encoding":{"x":{"field":"x","type":"quantitative"},"y":{"field":"y","type":"quantitative"}}}
]},
{"data":{"name":"t"},"transform":[{"filter":{"field":"p","equal":"c"}}],"layer":[
{"mark":{"type":"rect","fill":"#eaeaf2"},"encoding":{"x":{"datum":0.0096,"scale":{"domain":[0,1],"nice":false},"axis":null},"x2":{"datum":0.078},"y":{"datum":0.988,"scale":{"domain":[0,1],"nice":false},"axis":null},"y2":{"datum":0.937}}},
{"mark":{"type":"rect","fill":"#eaeaf2"},"encoding":{"x":{"datum":0.081,"axis":null},"x2":{"datum":0.182},"y":{"datum":0.988,"axis":null},"y2":{"datum":0.937}}},
{"mark":{"type":"rect","fill":"#eaeaf2"},"encoding":{"x":{"datum":0.0096,"axis":null},"x2":{"datum":0.078},"y":{"datum":0.933,"axis":null},"y2":{"datum":0.882}}},
{"mark":{"type":"rect","fill":"#eaeaf2"},"encoding":{"x":{"datum":0.081,"axis":null},"x2":{"datum":0.182},"y":{"datum":0.933,"axis":null},"y2":{"datum":0.882}}},
{"mark":{"type":"text","text":"min","align":"left","baseline":"middle","fontSize":13,"color":"#111"},"encoding":{"x":{"datum":0.0135,"axis":null},"y":{"datum":0.9625,"axis":null}}},
{"mark":{"type":"text","text":"max","align":"left","baseline":"middle","fontSize":13,"color":"#111"},"encoding":{"x":{"datum":0.0135,"axis":null},"y":{"datum":0.9074,"axis":null}}},
{"mark":{"type":"text","align":"right","baseline":"middle","fontSize":13,"color":"#111"},"encoding":{"text":{"field":"mn"},"x":{"datum":0.1755,"axis":null},"y":{"datum":0.9625,"axis":null}}},
{"mark":{"type":"text","align":"right","baseline":"middle","fontSize":13,"color":"#111"},"encoding":{"text":{"field":"mx"},"x":{"datum":0.1755,"axis":null},"y":{"datum":0.9074,"axis":null}}}
]}
]},
{"width":522,"height":392,"resolve":{"scale":{"x":"independent","y":"independent"}},
"layer":[
{"layer":[
{"data":{"name":"d"},"mark":{"type":"line","stroke":"#000","strokeOpacity":0.2,"strokeWidth":1.5},
"encoding":{"x":{"field":"x","type":"quantitative","scale":{"domain":[-79.5,1889.5],"nice":false,"zero":false},"axis":{"values":[0,250,500,750,1000,1250,1500,1750],"format":"d","title":"time passed [s]"}},
"y":{"field":"y","type":"quantitative","scale":{"domain":[-4.7,98.6],"nice":false,"zero":false},"axis":{"values":[0,20,40,60,80],"format":"d","title":"sediment yield [kg]"}},
"detail":{"field":"s","type":"nominal"}}},
{"data":{"name":"rb"},"mark":{"type":"line","stroke":"#ff0000","strokeWidth":2},"encoding":{"x":{"field":"x","type":"quantitative"},"y":{"field":"y","type":"quantitative"}}}
]},
{"data":{"name":"t"},"transform":[{"filter":{"field":"p","equal":"d"}}],"layer":[
{"mark":{"type":"rect","fill":"#eaeaf2"},"encoding":{"x":{"datum":0.0096,"scale":{"domain":[0,1],"nice":false},"axis":null},"x2":{"datum":0.078},"y":{"datum":0.988,"scale":{"domain":[0,1],"nice":false},"axis":null},"y2":{"datum":0.937}}},
{"mark":{"type":"rect","fill":"#eaeaf2"},"encoding":{"x":{"datum":0.081,"axis":null},"x2":{"datum":0.182},"y":{"datum":0.988,"axis":null},"y2":{"datum":0.937}}},
{"mark":{"type":"rect","fill":"#eaeaf2"},"encoding":{"x":{"datum":0.0096,"axis":null},"x2":{"datum":0.078},"y":{"datum":0.933,"axis":null},"y2":{"datum":0.882}}},
{"mark":{"type":"rect","fill":"#eaeaf2"},"encoding":{"x":{"datum":0.081,"axis":null},"x2":{"datum":0.182},"y":{"datum":0.933,"axis":null},"y2":{"datum":0.882}}},
{"mark":{"type":"text","text":"min","align":"left","baseline":"middle","fontSize":13,"color":"#111"},"encoding":{"x":{"datum":0.0135,"axis":null},"y":{"datum":0.9625,"axis":null}}},
{"mark":{"type":"text","text":"max","align":"left","baseline":"middle","fontSize":13,"color":"#111"},"encoding":{"x":{"datum":0.0135,"axis":null},"y":{"datum":0.9074,"axis":null}}},
{"mark":{"type":"text","align":"right","baseline":"middle","fontSize":13,"color":"#111"},"encoding":{"text":{"field":"mn"},"x":{"datum":0.1755,"axis":null},"y":{"datum":0.9625,"axis":null}}},
{"mark":{"type":"text","align":"right","baseline":"middle","fontSize":13,"color":"#111"},"encoding":{"text":{"field":"mx"},"x":{"datum":0.1755,"axis":null},"y":{"datum":0.9074,"axis":null}}}
]}
]},
{"width":522,"height":392,"resolve":{"scale":{"x":"independent","y":"independent"}},
"layer":[
{"layer":[
{"data":{"name":"e"},"mark":{"type":"line","stroke":"#000","strokeOpacity":0.2,"strokeWidth":1.5},
"encoding":{"x":{"field":"x","type":"quantitative","scale":{"domain":[-79.5,1889.5],"nice":false,"zero":false},"axis":{"values":[0,250,500,750,1000,1250,1500,1750],"format":"d","title":"time passed [s]"}},
"y":{"field":"y","type":"quantitative","scale":{"domain":[-4.1,86.6],"nice":false,"zero":false},"axis":{"values":[0,20,40,60,80],"format":"d","title":"sediment yield [kg]"}},
"detail":{"field":"s","type":"nominal"}}},
{"data":{"name":"rb"},"mark":{"type":"line","stroke":"#ff0000","strokeWidth":2},"encoding":{"x":{"field":"x","type":"quantitative"},"y":{"field":"y","type":"quantitative"}}}
]},
{"data":{"name":"t"},"transform":[{"filter":{"field":"p","equal":"e"}}],"layer":[
{"mark":{"type":"rect","fill":"#eaeaf2"},"encoding":{"x":{"datum":0.0096,"scale":{"domain":[0,1],"nice":false},"axis":null},"x2":{"datum":0.078},"y":{"datum":0.988,"scale":{"domain":[0,1],"nice":false},"axis":null},"y2":{"datum":0.937}}},
{"mark":{"type":"rect","fill":"#eaeaf2"},"encoding":{"x":{"datum":0.081,"axis":null},"x2":{"datum":0.182},"y":{"datum":0.988,"axis":null},"y2":{"datum":0.937}}},
{"mark":{"type":"rect","fill":"#eaeaf2"},"encoding":{"x":{"datum":0.0096,"axis":null},"x2":{"datum":0.078},"y":{"datum":0.933,"axis":null},"y2":{"datum":0.882}}},
{"mark":{"type":"rect","fill":"#eaeaf2"},"encoding":{"x":{"datum":0.081,"axis":null},"x2":{"datum":0.182},"y":{"datum":0.933,"axis":null},"y2":{"datum":0.882}}},
{"mark":{"type":"text","text":"min","align":"left","baseline":"middle","fontSize":13,"color":"#111"},"encoding":{"x":{"datum":0.0135,"axis":null},"y":{"datum":0.9625,"axis":null}}},
{"mark":{"type":"text","text":"max","align":"left","baseline":"middle","fontSize":13,"color":"#111"},"encoding":{"x":{"datum":0.0135,"axis":null},"y":{"datum":0.9074,"axis":null}}},
{"mark":{"type":"text","align":"right","baseline":"middle","fontSize":13,"color":"#111"},"encoding":{"text":{"field":"mn"},"x":{"datum":0.1755,"axis":null},"y":{"datum":0.9625,"axis":null}}},
{"mark":{"type":"text","align":"right","baseline":"middle","fontSize":13,"color":"#111"},"encoding":{"text":{"field":"mx"},"x":{"datum":0.1755,"axis":null},"y":{"datum":0.9074,"axis":null}}}
]}
]},
{"width":522,"height":392,"resolve":{"scale":{"x":"independent","y":"independent"}},
"layer":[
{"layer":[
{"data":{"name":"f"},"mark":{"type":"line","stroke":"#000","strokeOpacity":0.2,"strokeWidth":1.5},
"encoding":{"x":{"field":"x","type":"quantitative","scale":{"domain":[-79.5,1889.5],"nice":false,"zero":false},"axis":{"values":[0,250,500,750,1000,1250,1500,1750],"format":"d","title":"time passed [s]"}},
"y":{"field":"y","type":"quantitative","scale":{"domain":[-5.04,105.8],"nice":false,"zero":false},"axis":{"values":[0,20,40,60,80,100],"format":"d","title":"sediment yield [kg]"}},
"detail":{"field":"s","type":"nominal"}}},
{"data":{"name":"rb"},"mark":{"type":"line","stroke":"#ff0000","strokeWidth":2},"encoding":{"x":{"field":"x","type":"quantitative"},"y":{"field":"y","type":"quantitative"}}}
]},
{"data":{"name":"t"},"transform":[{"filter":{"field":"p","equal":"f"}}],"layer":[
{"mark":{"type":"rect","fill":"#eaeaf2"},"encoding":{"x":{"datum":0.0096,"scale":{"domain":[0,1],"nice":false},"axis":null},"x2":{"datum":0.078},"y":{"datum":0.988,"scale":{"domain":[0,1],"nice":false},"axis":null},"y2":{"datum":0.937}}},
{"mark":{"type":"rect","fill":"#eaeaf2"},"encoding":{"x":{"datum":0.081,"axis":null},"x2":{"datum":0.182},"y":{"datum":0.988,"axis":null},"y2":{"datum":0.937}}},
{"mark":{"type":"rect","fill":"#eaeaf2"},"encoding":{"x":{"datum":0.0096,"axis":null},"x2":{"datum":0.078},"y":{"datum":0.933,"axis":null},"y2":{"datum":0.882}}},
{"mark":{"type":"rect","fill":"#eaeaf2"},"encoding":{"x":{"datum":0.081,"axis":null},"x2":{"datum":0.182},"y":{"datum":0.933,"axis":null},"y2":{"datum":0.882}}},
{"mark":{"type":"text","text":"min","align":"left","baseline":"middle","fontSize":13,"color":"#111"},"encoding":{"x":{"datum":0.0135,"axis":null},"y":{"datum":0.9625,"axis":null}}},
{"mark":{"type":"text","text":"max","align":"left","baseline":"middle","fontSize":13,"color":"#111"},"encoding":{"x":{"datum":0.0135,"axis":null},"y":{"datum":0.9074,"axis":null}}},
{"mark":{"type":"text","align":"right","baseline":"middle","fontSize":13,"color":"#111"},"encoding":{"text":{"field":"mn"},"x":{"datum":0.1755,"axis":null},"y":{"datum":0.9625,"axis":null}}},
{"mark":{"type":"text","align":"right","baseline":"middle","fontSize":13,"color":"#111"},"encoding":{"text":{"field":"mx"},"x":{"datum":0.1755,"axis":null},"y":{"datum":0.9074,"axis":null}}}
]}
]}
],
"config":{
"font":"DejaVu Sans",
"view":{"stroke":"#222","strokeWidth":1.2},
"axis":{"domain":false,"grid":false,"labelFontSize":14,"titleFontSize":14.5,"titleFontWeight":"normal","labelColor":"#111","titleColor":"#111","tickColor":"#222","tickSize":5,"tickWidth":1.2,"labelPadding":4},
"axisX":{"titlePadding":3},
"axisY":{"titlePadding":6,"labelPadding":5},
"title":{"fontSize":22,"fontWeight":"normal","offset":14,"color":"#111","anchor":"middle","frame":"group"}
}
}
